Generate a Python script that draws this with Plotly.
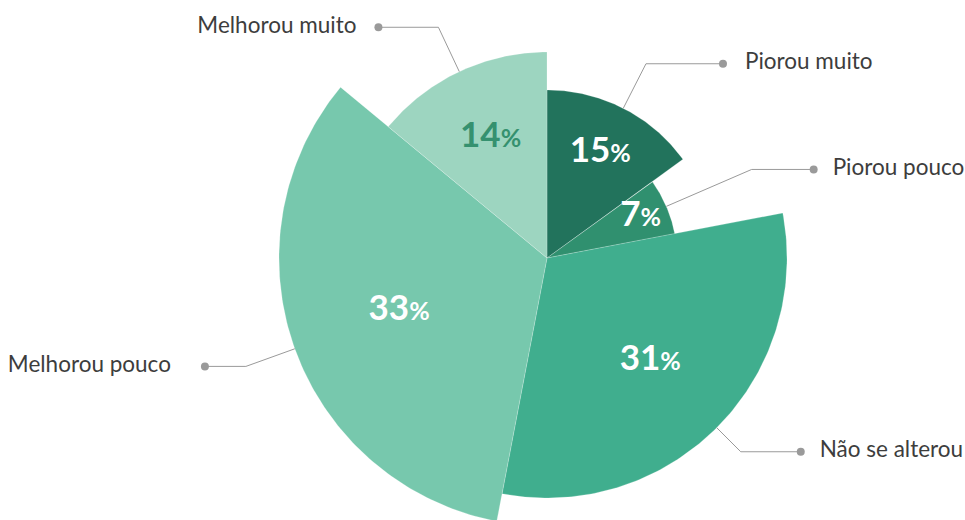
import math
import plotly.graph_objects as go

# ---- data ----
categories = ["Piorou muito", "Piorou pouco", "Não se alterou", "Melhorou pouco", "Melhorou muito"]
percent = [15, 7, 31, 33, 14]
radius_z = [168, 130, 240, 268, 206]          # variable radius of each slice

# ---- style / layout ----
colors = ["#22735c", "#30906f", "#40ae8e", "#77c8ad", "#9dd5c0"]
inner_text_colors = ["white", "white", "white", "white", "#35916f"]
leader_push = [50, 93, 34, 52, 49]        # radial distance from slice edge to elbow
leader_hlen = [77, 62, 60, 41, 60]        # horizontal connector length
label_gap = [22, 19, 19, 34, 22]          # gap between connector dot and label text
W, H = 965, 520
CX, CY = 547, 258                         # pie centre in figure pixels (from top-left)
ARC_STEPS = 120

# angles (degrees clockwise from 12 o'clock)
starts, mids, widths = [], [], []
acc = 0.0
for p in percent:
    w = p * 3.6
    starts.append(acc)
    mids.append(acc + w / 2)
    widths.append(w)
    acc += w


def polar_xy(r, deg):
    a = math.radians(deg)
    return r * math.sin(a), r * math.cos(a)


fig = go.Figure()

# slices (variable-radius pie), axes are 1 unit = 1 px with origin at the centre
for i in range(len(percent)):
    xs, ys = [0.0], [0.0]
    for k in range(ARC_STEPS + 1):
        x, y = polar_xy(radius_z[i], starts[i] + widths[i] * k / ARC_STEPS)
        xs.append(x)
        ys.append(y)
    xs.append(0.0)
    ys.append(0.0)
    fig.add_trace(go.Scatter(
        x=xs, y=ys, mode="lines", fill="toself", fillcolor=colors[i],
        line=dict(color="rgba(255,255,255,0.35)", width=0.6),
        hoverinfo="skip", showlegend=False,
    ))

# inner percentage labels
for i in range(len(percent)):
    x, y = polar_xy(0.4 * radius_z[i] + 50, mids[i])
    fig.add_trace(go.Scatter(
        x=[x], y=[y], mode="text",
        text=[f"<b>{percent[i]}<span style='font-size:25px'>%</span></b>"],
        textposition="middle center",
        textfont=dict(family="Lato", size=35, color=inner_text_colors[i]),
        cliponaxis=False, hoverinfo="skip", showlegend=False,
    ))

# leader lines + outside labels
for i, name in enumerate(categories):
    r0 = radius_z[i]
    r1 = r0 + leader_push[i]
    x0, y0 = polar_xy(r0, mids[i])
    x1, y1 = polar_xy(r1, mids[i])
    side = 1 if x1 >= 0 else -1
    x2 = x1 + side * leader_hlen[i]
    fig.add_trace(go.Scatter(
        x=[x0, x1, x2], y=[y0, y1, y1], mode="lines",
        line=dict(color="#9a9a9a", width=1), hoverinfo="skip", showlegend=False,
    ))
    fig.add_trace(go.Scatter(
        x=[x2], y=[y1], mode="markers",
        marker=dict(color="#9a9a9a", size=8), hoverinfo="skip", showlegend=False,
    ))
    fig.add_trace(go.Scatter(
        x=[x2 + side * label_gap[i]], y=[y1], mode="text", text=[name],
        textposition="middle right" if side > 0 else "middle left",
        textfont=dict(family="Lato", size=22.5, color="#3d3d3d"),
        cliponaxis=False, hoverinfo="skip", showlegend=False,
    ))

fig.update_layout(
    width=W, height=H,
    margin=dict(l=0, r=0, t=0, b=0),
    paper_bgcolor="white", plot_bgcolor="white",
    showlegend=False,
    xaxis=dict(range=[-CX, W - CX], visible=False, fixedrange=True),
    yaxis=dict(range=[-(H - CY), CY], visible=False, fixedrange=True),
)

fig.write_html("out.html", config={"displayModeBar": False},
               post_script="document.body.style.margin='0';")
